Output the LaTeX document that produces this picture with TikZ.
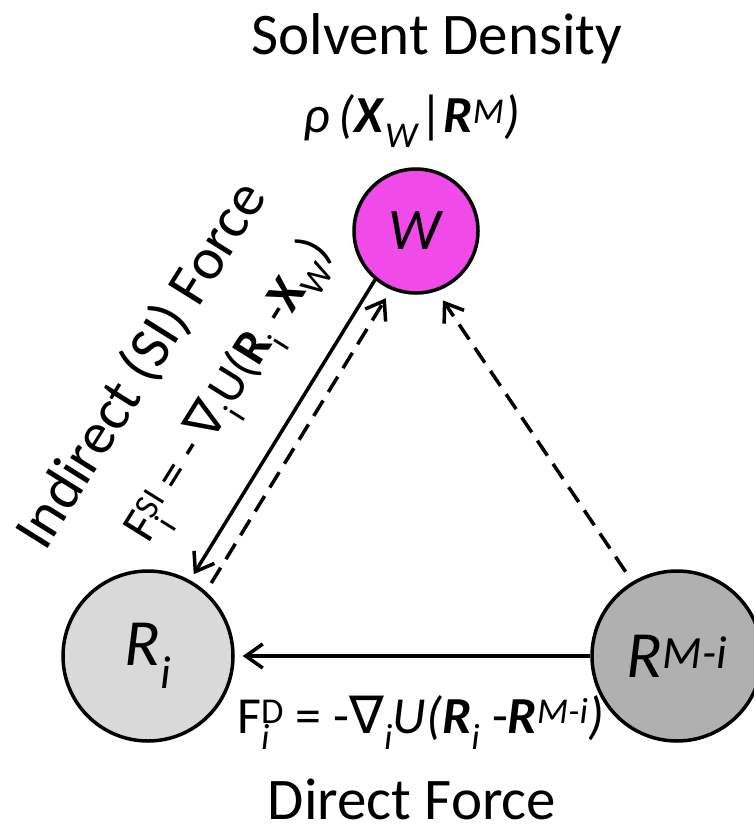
\documentclass[tikz,border=0pt]{standalone}
\usepackage{fontspec}
\setmainfont{Carlito}
\newfontfamily\symfont{DejaVu Sans}
\usetikzlibrary{positioning,arrows.meta}
\definecolor{wMagenta}{RGB}{240,74,232}
\definecolor{riGray}{RGB}{217,217,217}
\definecolor{rmGray}{RGB}{176,176,176}
\newcommand{\bvec}[1]{\textbf{\textit{#1}}}
\newcommand{\subsup}[2]{\rlap{\textsubscript{#1}}\textsuperscript{#2}}
\newcommand{\nab}{{\symfont ∇}}

\begin{document}
\begin{tikzpicture}[
    x=1pt, y=-1pt,
    >={Straight Barb[length=17pt,width=24pt]},
    site/.style={circle, draw, line width=3.5pt, minimum size=170pt, inner sep=0pt, font=\fontsize{66}{78}\selectfont},
    title/.style={inner sep=0pt, font=\fontsize{59}{70}\selectfont},
    formula/.style={inner sep=0pt, font=\fontsize{52}{60}\selectfont},
    force/.style={->, line width=3.5pt},
    dashed force/.style={->, line width=3.5pt, dash pattern=on 18pt off 10pt}
]
  \useasboundingbox (0,0) rectangle (753,829);

  \node[site, fill=wMagenta, minimum size=124pt, font=\fontsize{59}{70}\selectfont] (w) at (416,231) {\textit{W}};
  \node[site, fill=riGray] (ri) at (148,656) {\textit{R}\textsubscript{\textit{i}}};
  \node[site, fill=rmGray] (rm) at (677,656) {\textit{R}\textsuperscript{\textit{M-i}}};

  \node[title, anchor=base] (density) at (437,55) {Solvent Density};
  \node[formula, anchor=base] (rho) at (412,133) {\textit{ρ\,(}\bvec{X}\textsubscript{\textit{W}}|\bvec{R}\textsuperscript{\textit{M}}\textit{)}};
  \node[title, anchor=base] (direct) at (412,819) {Direct Force};
  \node[title, rotate=58, anchor=base west] (indirect) at (45,553) {Indirect (SI) Force};
  \node[formula, rotate=58, anchor=base west, font=\fontsize{50}{58}\selectfont] (fsi) at (148,545) {F\subsup{i}{SI} = -\,\nab\textsubscript{i}U(\textbf{R}\textsubscript{i} -\textbf{X}\textsubscript{W})};
  \node[formula, anchor=base west] (fd) at (237,733) {F\subsup{\textit{i}}{D} = -\nab\textsubscript{\textit{i}}\textit{U(}\bvec{R}\textsubscript{\textit{i}} -\bvec{R}\textsuperscript{\textit{M-i}}\textit{)}};

  \draw[force, shorten >=8pt] (rm.west) -- (ri.east);
  \draw[force, shorten >=7pt] (w.-130) -- (ri.61);
  \draw[dashed force, shorten <=10pt, shorten >=10pt] (ri.48) -- (w.-113);
  \draw[dashed force, shorten <=12pt, shorten >=11pt] (rm.121) -- (w.-71);
\end{tikzpicture}
\end{document}
